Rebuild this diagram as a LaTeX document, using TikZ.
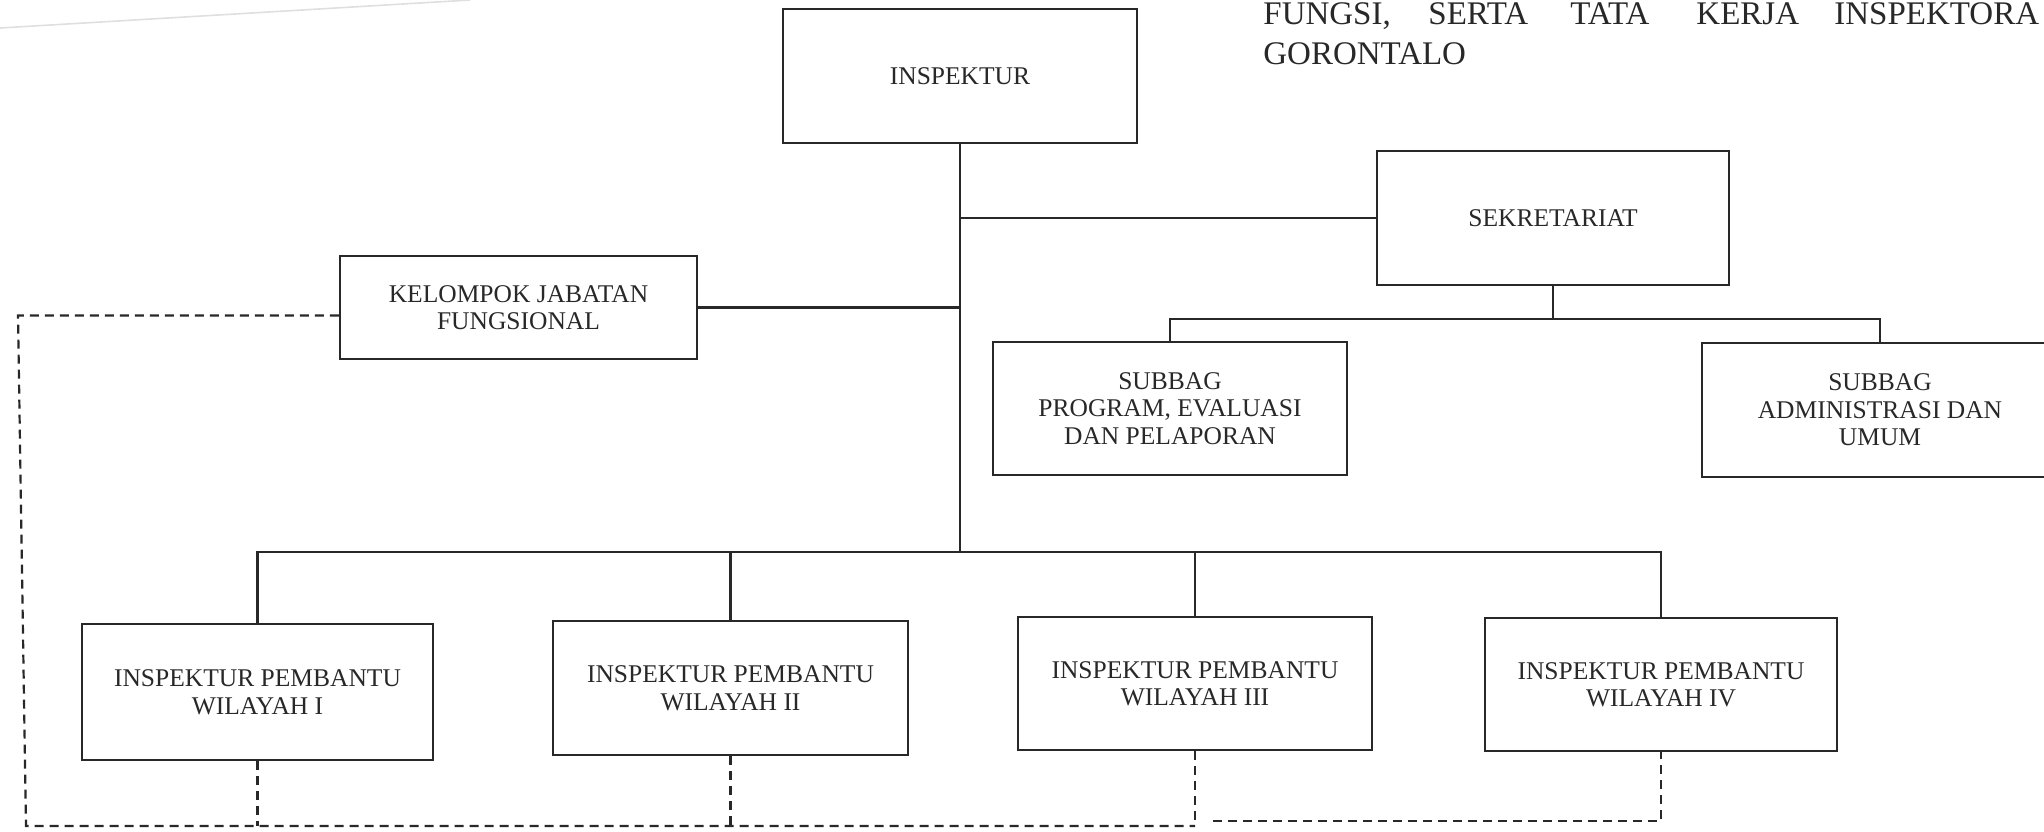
\documentclass[tikz,border=0pt]{standalone}
\usepackage{fontspec}
\setmainfont{Liberation Serif}
\definecolor{ink}{RGB}{40,40,40}
\newcommand\boxfont{\fontsize{12.75pt}{13.75pt}\selectfont}
\newcommand\titlefont{\fontsize{16.5pt}{20pt}\selectfont}
\begin{document}
\begin{tikzpicture}[x=0.5pt,y=-0.5pt,
  orgbox/.style={draw=ink, line width=1.2pt, inner sep=0pt, align=center,
                 font=\boxfont, text=ink, minimum width=#1},
  orgbox/.default=177pt,
  link/.style={draw=ink, line width=1.1pt},
  dlink/.style={draw=ink, line width=1.1pt, dash pattern=on 4.5pt off 3pt},
  titletext/.style={font=\titlefont, text=ink, inner sep=0pt, anchor=base west}]
\useasboundingbox (0,0) rectangle (2044,831);
\clip (0,0) rectangle (2044,831);

% faint scan line at top left
\draw[gray!25, line width=0.8pt] (0,28) -- (470,0);

% title fragment (justified line)
\node[titletext] (t1) at (1263,24) {FUNGSI,};
\node[titletext] (t2) at (1428,24) {SERTA};
\node[titletext] (t3) at (1570,24) {TATA};
\node[titletext] (t4) at (1696,24) {KERJA};
\node[titletext] (t5) at (1834,24) {INSPEKTORA};
\node[titletext] (t6) at (1263,64) {GORONTALO};

% boxes
\node[orgbox, minimum height=67pt] (ins) at (960,76) {INSPEKTUR};
\node[orgbox=176pt, minimum height=67pt] (sek) at (1553,218) {SEKRETARIAT};
\node[orgbox, minimum height=66.5pt] (sp) at (1170,408.5) {SUBBAG\\PROGRAM, EVALUASI\\DAN PELAPORAN};
\node[orgbox=178pt, minimum height=67pt] (sa) at (1880,410) {SUBBAG\\ADMINISTRASI DAN\\UMUM};
\node[orgbox=178.5pt, minimum height=51.5pt] (kel) at (518.5,307.5) {KELOMPOK JABATAN\\FUNGSIONAL};
\node[orgbox=175.5pt, minimum height=68pt] (w1) at (257.5,692) {INSPEKTUR PEMBANTU\\WILAYAH I};
\node[orgbox=177.5pt, minimum height=67pt] (w2) at (730.5,688) {INSPEKTUR PEMBANTU\\WILAYAH II};
\node[orgbox, minimum height=66.5pt] (w3) at (1195,683.5) {INSPEKTUR PEMBANTU\\WILAYAH III};
\node[orgbox=176pt, minimum height=66.5pt] (w4) at (1661,684.5) {INSPEKTUR PEMBANTU\\WILAYAH IV};

% branch points
\coordinate (tb) at (960,552);
\coordinate (sb) at (1553,319);

% solid connectors
\draw[link] (ins.south) -- (tb);
\draw[link] (sek.west) -- (sek.west -| ins.south);
\draw[link] (kel.east) -- (kel.east -| ins.south);
\draw[link] (sek.south) -- (sb);
\draw[link] (sp.north) -- (sp.north |- sb) -- (sa.north |- sb) -- (sa.north);
\draw[link] (w1.north) -- (w1.north |- tb) -- (w4.north |- tb) -- (w4.north);
\draw[link] (w2.north) -- (w2.north |- tb);
\draw[link] (w3.north) -- (w3.north |- tb);

% dashed connectors
\coordinate (dl1) at (18,315.5);
\coordinate (dl2) at (26,826);
\coordinate (dr) at (1213,821);
\draw[dlink] ([yshift=-4pt]kel.west) -- (dl1) -- (dl2) -- (dl2 -| w3.south);
\draw[dlink] (w1.south) -- (w1.south |- dl2);
\draw[dlink] (w2.south) -- (w2.south |- dl2);
\draw[dlink] (w3.south) -- (w3.south |- dl2);
\draw[dlink] (dr) -- (dr -| w4.south) -- (w4.south);
\end{tikzpicture}
\end{document}
